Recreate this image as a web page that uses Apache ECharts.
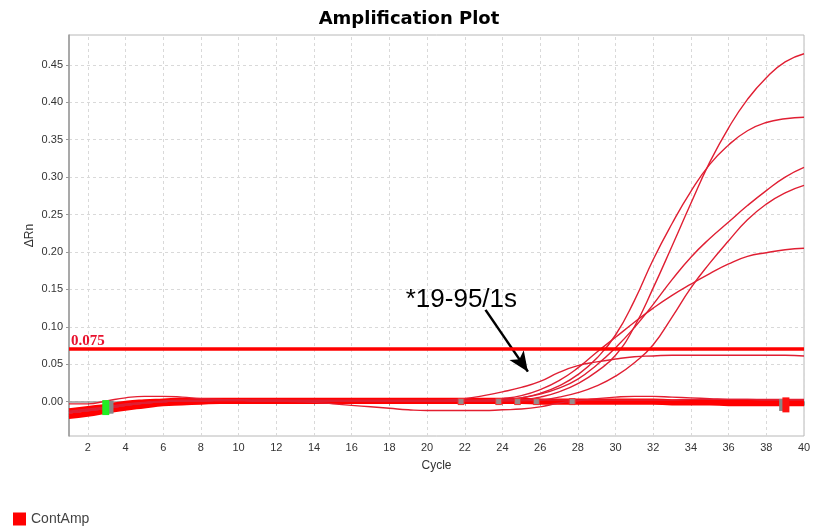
<!DOCTYPE html>
<html>
<head>
<meta charset="utf-8">
<script src="https://cdn.jsdelivr.net/npm/echarts@6/dist/echarts.min.js"></script>
<style>html,body{margin:0;padding:0;background:#fff}#chart{width:817px;height:527px}</style>
</head>
<body>
<div id="chart"></div>
<script>
// ---- data ----
const cycles = [1,2,3,4,5,6,7,8,9,10,11,12,13,14,15,16,17,18,19,20,21,22,23,24,25,26,27,28,29,30,31,32,33,34,35,36,37,38,39,40];
const xTickValues = [2,4,6,8,10,12,14,16,18,20,22,24,26,28,30,32,34,36,38,40];
const yTickValues = [0,0.05,0.10,0.15,0.20,0.25,0.30,0.35,0.40,0.45];

// baseline band (many overlapping non-amplifying wells)
const baseUpper = [-0.011,-0.008,-0.005,-0.001,0.001,0.002,0.003,0.003,0.003,0.003,0.003,0.003,0.003,0.003,0.003,0.003,0.003,0.003,0.003,0.003,0.003,0.003,0.003,0.003,0.003,0.002,0.002,0.002,0.002,0.002,0.002,0.002,0.001,0.001,0.001,0.001,0.000,0.000,0.000,0.000];
const baseMid1  = [-0.014,-0.011,-0.008,-0.004,-0.002,0.000,0.001,0.002,0.002,0.002,0.002,0.002,0.002,0.002,0.002,0.002,0.002,0.002,0.002,0.002,0.002,0.002,0.002,0.002,0.002,0.001,0.001,0.001,0.001,0.001,0.001,0.001,0.000,0.000,0.000,-0.001,-0.001,-0.001,-0.001,-0.001];
const baseMid2  = [-0.018,-0.015,-0.011,-0.007,-0.004,-0.002,-0.001,0.000,0.000,0.000,0.000,0.000,0.000,0.000,0.000,0.000,0.000,0.000,0.000,0.000,0.000,0.000,0.000,0.000,0.000,-0.001,-0.001,-0.001,-0.001,-0.001,-0.001,-0.001,-0.002,-0.002,-0.002,-0.003,-0.003,-0.003,-0.003,-0.003];
const baseLower = [-0.021,-0.018,-0.014,-0.010,-0.007,-0.004,-0.003,-0.002,-0.001,-0.001,-0.001,-0.001,-0.001,-0.001,-0.001,-0.001,-0.001,-0.001,-0.001,-0.001,-0.001,-0.001,-0.001,-0.001,-0.001,-0.002,-0.002,-0.002,-0.002,-0.002,-0.002,-0.002,-0.003,-0.003,-0.003,-0.004,-0.004,-0.004,-0.004,-0.004];

// thin single wells near the baseline
const wellTop = [-0.003,-0.003,0.001,0.005,0.007,0.007,0.006,0.004,0.003,0.002,0.002,0.002,0.002,0.002,0.002,0.002,0.002,0.002,0.002,0.002,0.002,0.002,0.002,0.002,0.002,0.002,0.002,0.002,0.002,0.002,0.002,0.002,0.002,0.003,0.003,0.003,0.003,0.003,0.003,0.003];
const wellDip = [-0.014,-0.011,-0.008,-0.004,-0.002,0.000,0.001,0.001,0.001,0.001,0.001,0.001,0.000,-0.001,-0.003,-0.005,-0.007,-0.009,-0.011,-0.012,-0.012,-0.012,-0.012,-0.011,-0.010,-0.007,-0.002,0.001,0.004,0.006,0.007,0.007,0.006,0.005,0.004,0.003,0.003,0.002,0.002,0.002];

// amplifying wells
const ampA = [-0.015,-0.012,-0.009,-0.005,-0.002,0.000,0.001,0.001,0.002,0.002,0.001,0.001,0.001,0.001,0.001,0.001,0.001,0.001,0.001,0.001,0.001,0.001,0.001,0.001,0.002,0.006,0.013,0.024,0.040,0.062,0.100,0.152,0.208,0.265,0.320,0.366,0.404,0.433,0.454,0.465];
const ampB = [-0.015,-0.012,-0.009,-0.005,-0.002,0.000,0.001,0.001,0.002,0.002,0.001,0.001,0.001,0.001,0.001,0.001,0.001,0.001,0.001,0.001,0.001,0.001,0.001,0.002,0.005,0.011,0.021,0.036,0.058,0.089,0.135,0.190,0.238,0.281,0.317,0.343,0.362,0.373,0.378,0.380];
const ampC = [-0.015,-0.012,-0.009,-0.005,-0.002,0.000,0.001,0.001,0.002,0.002,0.001,0.001,0.001,0.001,0.001,0.001,0.001,0.001,0.001,0.001,0.001,0.001,0.001,0.002,0.005,0.010,0.018,0.030,0.049,0.072,0.099,0.130,0.163,0.193,0.218,0.240,0.262,0.282,0.300,0.313];
const ampD = [-0.015,-0.012,-0.009,-0.005,-0.002,0.000,0.001,0.001,0.002,0.002,0.001,0.001,0.001,0.001,0.001,0.001,0.001,0.001,0.001,0.001,0.001,0.001,0.001,0.001,0.001,0.002,0.006,0.012,0.021,0.034,0.052,0.076,0.113,0.152,0.185,0.215,0.243,0.264,0.279,0.289];
const ampE = [-0.015,-0.012,-0.009,-0.005,-0.002,0.000,0.001,0.001,0.002,0.002,0.001,0.001,0.001,0.001,0.001,0.001,0.001,0.001,0.001,0.001,0.001,0.001,0.002,0.004,0.008,0.016,0.028,0.045,0.066,0.086,0.106,0.125,0.142,0.157,0.171,0.184,0.194,0.199,0.203,0.205];
const ampF = [-0.013,-0.010,-0.007,-0.003,-0.001,0.001,0.002,0.002,0.002,0.002,0.002,0.002,0.001,0.001,0.001,0.001,0.001,0.001,0.001,0.001,0.002,0.004,0.008,0.013,0.019,0.027,0.039,0.048,0.053,0.057,0.060,0.061,0.062,0.062,0.062,0.062,0.062,0.062,0.062,0.061];

const thresholdValue = 0.075;
const thresholdLabel = '0.075';

// baseline start / end markers [cycle, ΔRn]
const baselineStartGreen = [[2.95, -0.008]];
const baselineStartGray  = [[3.2, -0.0075]];
const baselineEndGray    = [[38.84, -0.0045]];
const baselineEndRed     = [[39.04, -0.0044]];
const wellEndMarkers     = [[21.8, 0.0], [23.8, 0.0], [24.8, 0.0], [25.8, 0.0], [27.7, 0.0]];

const annotationText = '*19-95/1s';
const legendName = 'ContAmp';

// ---- chart ----
const pairs = vals => cycles.map((c, i) => [c, vals[i]]);
const chart = echarts.init(document.getElementById('chart'), null, {renderer: 'canvas'});

function lineSeries(vals, color, width, z) {
  return {
    name: legendName, type: 'line', data: pairs(vals), showSymbol: false, symbol: 'none',
    smooth: 0.5, z: z,
    lineStyle: {color: color, width: width}, itemStyle: {color: color},
    emphasis: {disabled: true}, silent: true
  };
}

const gridLineStyle = {color: '#d9d9d9', type: [3, 3], width: 1};
const series = [
  {
    type: 'line', data: [], z: 0, silent: true,
    markLine: {
      z: 0, zlevel: 0, silent: true, animation: false, symbol: ['none', 'none'], label: {show: false},
      lineStyle: gridLineStyle, emphasis: {disabled: true},
      data: xTickValues.map(v => ({xAxis: v})).concat(yTickValues.map(v => ({yAxis: v})))
    }
  },
  lineSeries(baseLower, '#ff0000', 3.2, 2),
  lineSeries(baseMid2, '#ff0000', 3.2, 2),
  lineSeries(baseMid1, '#ff0000', 3.2, 2),
  lineSeries(baseUpper, '#ff0000', 3.2, 2),
  lineSeries(wellTop, '#e41e30', 1.4, 3),
  lineSeries(wellDip, '#e41e30', 1.4, 3),
  lineSeries(ampF, '#e01f33', 1.4, 3),
  lineSeries(ampE, '#e01f33', 1.4, 3),
  lineSeries(ampD, '#e01f33', 1.4, 3),
  lineSeries(ampC, '#e01f33', 1.4, 3),
  lineSeries(ampB, '#e01f33', 1.4, 3),
  lineSeries(ampA, '#e01f33', 1.4, 3)
];

// threshold line + annotation
series[series.length - 1].markLine = {
  z: 5, silent: true, symbol: ['none', 'none'], animation: false,
  lineStyle: {color: '#ff0000', width: 3.5, type: 'solid'},
  label: {show: true, position: 'insideStartTop', formatter: thresholdLabel, distance: [2, 1],
          color: '#e8112d', fontFamily: 'Liberation Serif', fontWeight: 'bold', fontSize: 15},
  data: [{yAxis: thresholdValue}]
};
series[6].markLine = {
  z: 5, silent: true, animation: false, symbol: ['none', 'arrow'], symbolSize: [13, 20],
  lineStyle: {color: '#000', width: 2.5, type: 'solid'},
  itemStyle: {color: '#000'},
  label: {show: false},
  data: [[{coord: [23.1, 0.1226]}, {coord: [25.35, 0.040]}]]
};
series[6].markPoint = {
  silent: true, animation: false,
  data: [{coord: [21.82, 0.136], symbol: 'circle', symbolSize: 1,
          itemStyle: {color: 'rgba(0,0,0,0)'},
          label: {show: true, position: 'inside', formatter: annotationText,
                  color: '#000', fontSize: 26, fontFamily: 'Liberation Sans'}}]
};

function markerSeries(data, color, size, border) {
  return {
    type: 'scatter', data: data, symbol: 'rect', symbolSize: size, z: 6, silent: true,
    itemStyle: {color: color, borderColor: border || color, borderWidth: border ? 1 : 0, opacity: 1},
    emphasis: {disabled: true}
  };
}
series.push(markerSeries(wellEndMarkers, '#9a8a8a', [6, 6], '#ee3030'));
series.push(markerSeries(baselineStartGray, '#888888', [6, 13]));
series.push(markerSeries(baselineStartGreen, '#22ee22', [7, 15]));
series.push(markerSeries(baselineEndGray, '#888888', [6, 12]));
series.push(markerSeries(baselineEndRed, '#ff1010', [7, 15]));

const option = {
  animation: false,
  backgroundColor: '#ffffff',
  title: {
    text: 'Amplification Plot', left: 404, top: 5, textAlign: 'center',
    textStyle: {fontFamily: 'DejaVu Sans', fontWeight: 'bold', fontSize: 18, color: '#000'}
  },
  legend: {
    left: 13, top: 512, padding: 0, itemWidth: 13, itemHeight: 13, icon: 'rect',
    data: [{name: legendName, icon: 'rect', itemStyle: {color: '#ff0000'}}],
    textStyle: {fontFamily: 'Liberation Sans', fontSize: 14, color: '#444'},
    selectedMode: false
  },
  grid: {left: 69, right: 13, top: 35, bottom: 91, show: true, borderColor: '#b8b8b8', borderWidth: 1},
  xAxis: {
    type: 'value', min: 1, max: 40,
    name: 'Cycle', nameLocation: 'middle', nameGap: 24, nameMoveOverlap: false,
    nameTextStyle: {fontFamily: 'Liberation Sans', fontSize: 12, color: '#333'},
    axisLine: {show: true, lineStyle: {color: '#999', width: 1.5}},
    axisTick: {show: true, length: 4, customValues: xTickValues, lineStyle: {color: '#999'}},
    axisLabel: {customValues: xTickValues, margin: 6, fontFamily: 'Liberation Sans', fontSize: 11, color: '#333',
      formatter: v => String(v)},
    splitLine: {show: false}
  },
  yAxis: {
    type: 'value', min: -0.046, max: 0.49,
    name: 'ΔRn', nameLocation: 'middle', nameGap: 33, nameRotate: 90, nameMoveOverlap: false,
    nameTextStyle: {fontFamily: 'Liberation Sans', fontSize: 12, color: '#333'},
    axisLine: {show: true, lineStyle: {color: '#999', width: 1.5}},
    axisTick: {show: true, length: 3, customValues: yTickValues, lineStyle: {color: '#999'}},
    axisLabel: {customValues: yTickValues, margin: 6, fontFamily: 'Liberation Sans', fontSize: 11, color: '#333',
      formatter: v => v.toFixed(2)},
    splitLine: {show: false}
  },
  series: series
};
chart.setOption(option);
</script>
</body>
</html>
